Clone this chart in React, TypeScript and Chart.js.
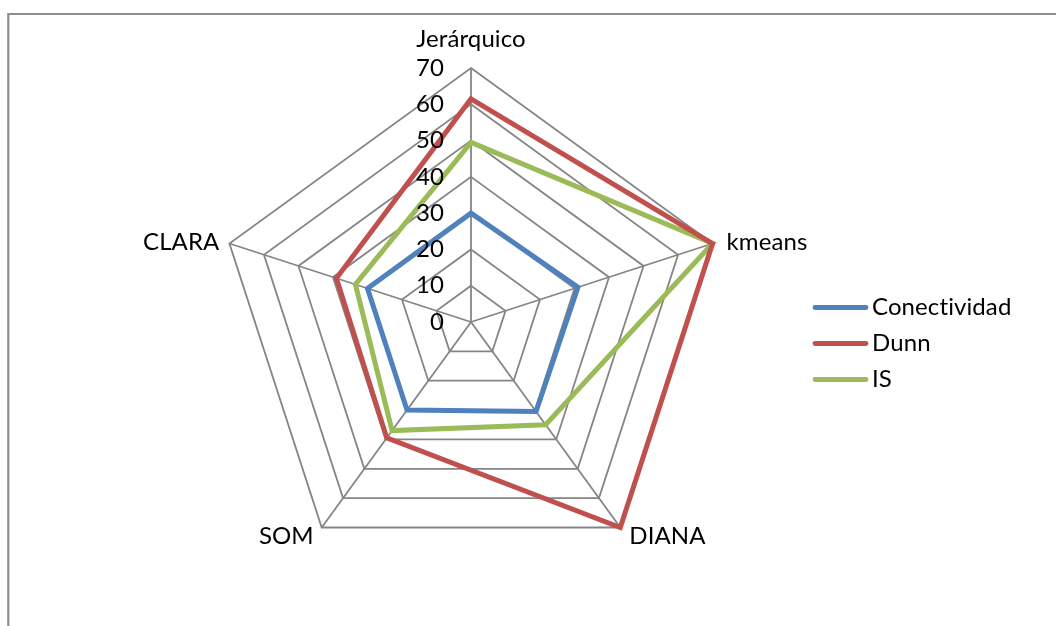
import React, { useEffect, useRef } from "react";
import { Chart, registerables } from "chart.js";

Chart.register(...registerables);

// Radar axes (clustering methods) and the three validation indices
const axisLabels = ["Jerárquico", "kmeans", "DIANA", "SOM", "CLARA"];
const conectividad = [30, 31, 30.5, 30, 30];
const dunn = [61.5, 70, 70, 39.5, 39];
const indiceIS = [49.5, 70, 35, 37, 33.5];
const tickValues = [0, 10, 20, 30, 40, 50, 60, 70];
const seriesNames = ["Conectividad", "Dunn", "IS"];
const seriesColors = ["#4F81BD", "#C0504D", "#9BBB59"];

const FONT = "Lato, 'Noto Sans', sans-serif";
const FONT_SIZE = 24;
const GRID = "#858585";

// Gray frame around the chart area (top and left edges are visible)
const framePlugin = {
  id: "frame",
  beforeDraw(chart: any) {
    const ctx = chart.ctx;
    ctx.save();
    ctx.strokeStyle = "#8e8e8e";
    ctx.lineWidth = 2.2;
    ctx.beginPath();
    ctx.moveTo(8.3, chart.height + 2);
    ctx.lineTo(8.3, 14);
    ctx.lineTo(chart.width + 2, 14);
    ctx.stroke();
    ctx.restore();
  },
};

// Axis names, value ticks and the legend, placed like an office-style radar chart
const labelsPlugin = {
  id: "radarText",
  afterDraw(chart: any) {
    const ctx = chart.ctx;
    const scale = chart.scales.r;
    const cx = scale.xCenter;
    const cy = scale.yCenter;
    ctx.save();
    ctx.fillStyle = "#000";
    ctx.font = `${FONT_SIZE}px ${FONT}`;
    // a tiny letter spacing keeps "ti" from being drawn as a ligature
    (ctx as any).letterSpacing = "0.1px";

    // value ticks along the vertical axis
    ctx.textAlign = "right";
    ctx.textBaseline = "middle";
    tickValues.forEach((v) => {
      const d = scale.getDistanceFromCenterForValue(v);
      ctx.fillText(String(v), cx - 27, cy - d);
    });

    // axis names at the outer vertices
    axisLabels.forEach((label, i) => {
      const p = scale.getPointPosition(i, scale.drawingArea);
      if (Math.abs(p.x - cx) < 1) {
        ctx.textAlign = "center";
        ctx.textBaseline = "alphabetic";
        ctx.fillText(label, p.x, p.y - 21);
      } else if (p.y < cy) {
        const right = p.x > cx;
        ctx.textAlign = right ? "left" : "right";
        ctx.textBaseline = "middle";
        ctx.fillText(label, p.x + (right ? 14 : -10), p.y - 1);
      } else {
        const right = p.x > cx;
        ctx.textAlign = right ? "left" : "right";
        ctx.textBaseline = "alphabetic";
        ctx.fillText(label, p.x + (right ? 9 : -8), p.y + 17);
      }
    });

    // legend
    chart.data.datasets.forEach((ds: any, i: number) => {
      const y = 307.5 + i * 36;
      ctx.strokeStyle = ds.borderColor;
      ctx.lineWidth = 4.8;
      ctx.lineCap = "round";
      ctx.beginPath();
      ctx.moveTo(815, y);
      ctx.lineTo(866, y);
      ctx.stroke();
      ctx.textAlign = "left";
      ctx.textBaseline = "middle";
      ctx.fillText(ds.label, 872, y);
    });
    ctx.restore();
  },
};

export default function App() {
  const canvasRef = useRef<HTMLCanvasElement | null>(null);

  useEffect(() => {
    const canvas = canvasRef.current;
    if (!canvas) return;
    const seriesData = [conectividad, dunn, indiceIS];
    const chart = new Chart(canvas, {
      type: "radar",
      data: {
        labels: axisLabels,
        datasets: seriesNames.map((name, i) => ({
          label: name,
          data: seriesData[i],
          borderColor: seriesColors[i],
          backgroundColor: "transparent",
          borderWidth: 5,
          pointRadius: 0,
          pointHoverRadius: 0,
          fill: false,
          tension: 0,
          borderJoinStyle: "miter" as const,
        })),
      },
      options: {
        responsive: false,
        animation: false,
        events: [],
        layout: { padding: { left: 217, right: 330, top: 68, bottom: 49 } },
        plugins: {
          legend: { display: false },
          tooltip: { enabled: false },
          title: { display: false },
        },
        scales: {
          r: {
            min: 0,
            max: 70,
            beginAtZero: true,
            ticks: { display: false, stepSize: 10 },
            pointLabels: { display: false },
            grid: { color: GRID, lineWidth: 1.8, circular: false },
            angleLines: { color: GRID, lineWidth: 1.8 },
          },
        },
      },
      plugins: [framePlugin, labelsPlugin],
    });
    return () => chart.destroy();
  }, []);

  return (
    <canvas
      ref={canvasRef}
      width={1056}
      height={626}
      style={{ position: "fixed", left: 0, top: 0, width: 1056, height: 626 }}
    />
  );
}
